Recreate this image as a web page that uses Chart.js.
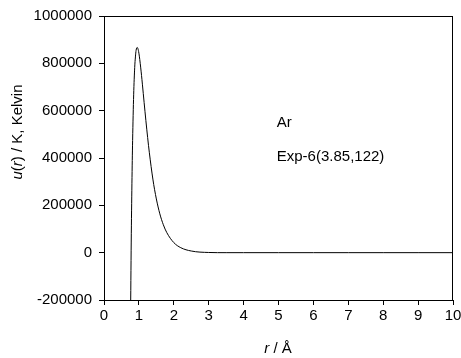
<!DOCTYPE html>
<html>
<head>
<meta charset="utf-8">
<script src="https://cdn.jsdelivr.net/npm/chart.js@4"></script>
<style>
  html, body { margin: 0; padding: 0; background: #fff; }
  #wrap { width: 461px; height: 358px; }
</style>
</head>
<body>
<div id="wrap"><canvas id="chart"></canvas></div>
<script>
// r in Angstrom, u(r) in Kelvin
const rValues = [0.74, 0.76, 0.78, 0.80, 0.82, 0.85, 0.88, 0.90, 0.92, 0.95, 0.97, 1.00, 1.05, 1.10, 1.15, 1.20, 1.25, 1.30, 1.40, 1.50, 1.60, 1.70, 1.80, 2.00, 2.20, 2.50, 3.00, 3.50, 4.00, 5.00, 6.00, 7.00, 8.00, 9.00, 10.00];
const uValues = [-480000, -275000, 45000, 291000, 474000, 667000, 783000, 827000, 855000, 867000, 863000, 843000, 784000, 712000, 634000, 558000, 487000, 422000, 311000, 227000, 164000, 118000, 84500, 42500, 21000, 7000, 800, 0, 0, 0, 0, 0, 0, 0, 0];
const xTicks = [0, 1, 2, 3, 4, 5, 6, 7, 8, 9, 10];
const yTicks = [-200000, 0, 200000, 400000, 600000, 800000, 1000000];
const labelLines = ['Ar', 'Exp-6(3.85,122)'];

const FONT = '"Liberation Sans", Arial, sans-serif';

// box around plot area + axis titles + in-plot labels
const decorations = {
  id: 'decorations',
  afterDraw(chart) {
    const { ctx, chartArea: a, scales } = chart;
    ctx.save();
    ctx.strokeStyle = '#000';
    ctx.lineWidth = 1;
    ctx.strokeRect(a.left + 0.5, a.top + 0.5, a.right - a.left - 1, a.bottom - a.top);

    ctx.fillStyle = '#000';
    ctx.textBaseline = 'middle';

    // in-plot labels
    ctx.font = '15px ' + FONT;
    ctx.textAlign = 'left';
    const lx = scales.x.getPixelForValue(4.95);
    ctx.fillText(labelLines[0], lx, scales.y.getPixelForValue(547000));
    ctx.fillText(labelLines[1], lx, scales.y.getPixelForValue(404000));

    // x title: "r / Å" with italic r
    const xt = 278;
    const yt = 349;
    const parts = [['italic 15px ' + FONT, 'r'], ['15px ' + FONT, ' / Å']];
    let w = 0;
    parts.forEach(p => { ctx.font = p[0]; w += ctx.measureText(p[1]).width; });
    let x = xt - w / 2;
    parts.forEach(p => { ctx.font = p[0]; ctx.fillText(p[1], x, yt); x += ctx.measureText(p[1]).width; });

    // y title: "u(r) / K, Kelvin" with italic u and r
    const yparts = [['italic 15px ' + FONT, 'u'], ['15px ' + FONT, '('], ['italic 15px ' + FONT, 'r'], ['15px ' + FONT, ') / K, Kelvin']];
    w = 0;
    yparts.forEach(p => { ctx.font = p[0]; w += ctx.measureText(p[1]).width; });
    ctx.translate(18, 132);
    ctx.rotate(-Math.PI / 2);
    x = -w / 2;
    yparts.forEach(p => { ctx.font = p[0]; ctx.fillText(p[1], x, 0); x += ctx.measureText(p[1]).width; });
    ctx.restore();
  }
};

new Chart(document.getElementById('chart'), {
  type: 'line',
  data: {
    datasets: [{
      data: rValues.map((r, i) => ({ x: r, y: uValues[i] })),
      borderColor: '#000',
      borderWidth: 1,
      pointRadius: 0,
      cubicInterpolationMode: 'monotone',
      fill: false
    }]
  },
  options: {
    responsive: true,
    maintainAspectRatio: false,
    animation: false,
    layout: { padding: { top: 15, right: 8, left: 0, bottom: 0 } },
    plugins: { legend: { display: false }, tooltip: { enabled: false } },
    scales: {
      x: {
        type: 'linear',
        min: 0,
        max: 10,
        afterBuildTicks: s => { s.ticks = xTicks.map(v => ({ value: v })); },
        afterFit: s => { s.height = 58; s.paddingRight = 0; },
        ticks: { color: '#000', font: { family: FONT, size: 15 }, padding: 2, maxRotation: 0 },
        grid: { drawOnChartArea: false, tickLength: 5, color: '#000' },
        border: { color: '#000' }
      },
      y: {
        min: -200000,
        max: 1000000,
        afterBuildTicks: s => { s.ticks = yTicks.map(v => ({ value: v })); },
        afterFit: s => { s.width = 104; },
        ticks: { color: '#000', font: { family: FONT, size: 15 }, padding: 7, callback: v => String(v) },
        grid: { drawOnChartArea: false, tickLength: 5, color: '#000' },
        border: { color: '#000' }
      }
    }
  },
  plugins: [decorations]
});
</script>
</body>
</html>
